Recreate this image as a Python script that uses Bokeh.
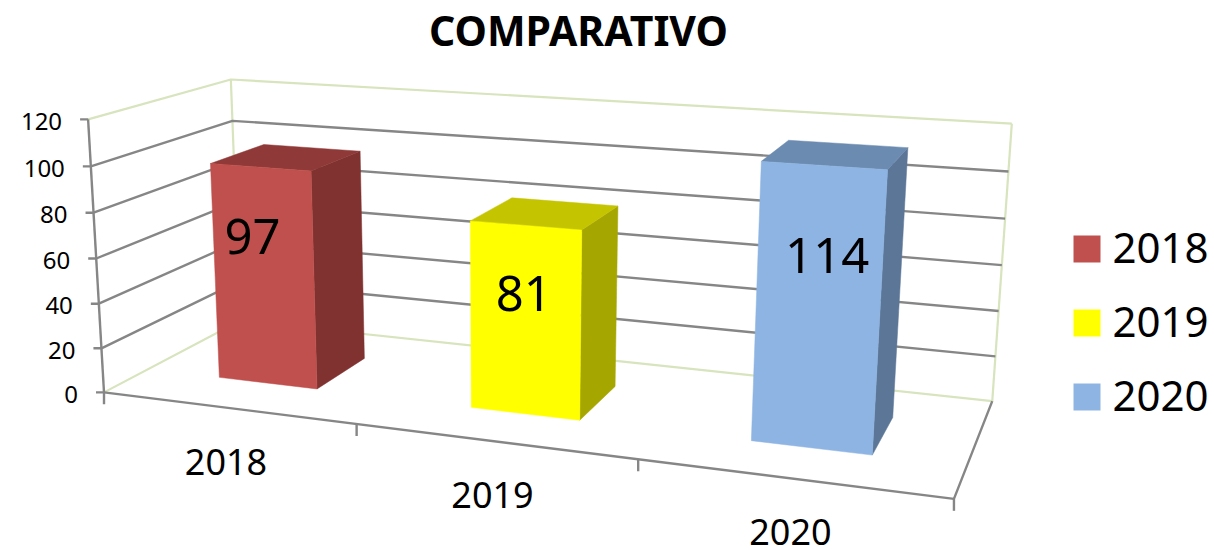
import numpy as np
from bokeh.core.properties import value
from bokeh.embed import file_html
from bokeh.models import Range1d
from bokeh.plotting import figure
from bokeh.resources import INLINE

# --- data ---
title_text = "COMPARATIVO"
categories = ["2018", "2019", "2020"]
values = [97, 81, 114]
y_ticks = [0, 20, 40, 60, 80, 100, 120]
y_max = 120

# --- style ---
front_colors = ["#C0504D", "#FFFF00", "#8DB4E2"]
side_colors = ["#7F3230", "#A6A600", "#5C7697"]
top_colors = ["#8F3A38", "#C4C400", "#6C8BB0"]
grid_color = "#868686"
frame_color = "#D7E4BD"
font = "Noto Sans"

# camera calibration: (u, w, height fraction) -> page pixel
calib_world = [(0, 0, 0), (1, 0, 0), (1, 1, 0), (0, 1, 0), (0, 0, 1), (0, 1, 1), (1, 1, 1)]
calib_page = [(105, 392), (953.5, 498), (992, 401), (238, 320), (86, 119), (232, 79), (1011, 123)]
rows = []
for (a, b, c), (x, y) in zip(calib_world, calib_page):
    rows.append([a, b, c, 1, 0, 0, 0, 0, -x * a, -x * b, -x * c, -x])
    rows.append([0, 0, 0, 0, a, b, c, 1, -y * a, -y * b, -y * c, -y])
cam = np.linalg.svd(np.array(rows, dtype=float))[2][-1].reshape(3, 4)


def project(u, w, v):
    q = cam @ np.array([u, w, v / y_max, 1.0])
    return q[0] / q[2], q[1] / q[2]


def path(*pts):
    xy = [project(*pt) for pt in pts]
    return [a for a, _ in xy], [b for _, b in xy]


p = figure(width=1214, height=550, output_backend="svg", toolbar_location=None,
           x_range=Range1d(0, 1214), y_range=Range1d(550, 0),
           min_border=0, outline_line_color=None, x_axis_type=None, y_axis_type=None)
p.grid.visible = False
p.background_fill_color = "white"
p.border_fill_color = "white"

# light frame of the walls
frame = [
    path((0, 0, y_max), (0, 1, y_max), (1, 1, y_max)),
    path((0, 1, 0), (0, 1, y_max)),
    path((1, 1, 0), (1, 1, y_max)),
    path((0, 0, 0), (0, 1, 0), (1, 1, 0)),
]
p.multi_line([f[0] for f in frame], [f[1] for f in frame], line_color=frame_color, line_width=2.2)

# gridlines on the walls
grid = [path((0, 0, t), (0, 1, t), (1, 1, t)) for t in y_ticks[1:-1]]
p.multi_line([g[0] for g in grid], [g[1] for g in grid], line_color=grid_color, line_width=2.4)

# axes
axes = [path((0, 0, 0), (0, 0, y_max)), path((0, 0, 0), (1, 0, 0), (1, 1, 0))]
for t in y_ticks:
    x0, y0 = project(0, 0, t)
    axes.append(([x0 - 8, x0], [y0, y0]))
n = len(categories)
for i in range(n + 1):
    x0, y0 = project(i / n, 0, 0)
    axes.append(([x0, x0], [y0, y0 + 12]))
p.multi_line([a[0] for a in axes], [a[1] for a in axes], line_color=grid_color, line_width=2.4)

# y tick labels
tx, ty = [], []
for t in y_ticks:
    x0, y0 = project(0, 0, t)
    tx.append(x0 - 26)
    ty.append(y0 + 2)
p.text(tx, ty, text=[str(t) for t in y_ticks], text_font=value(font), text_font_size="24px",
       text_align="right", text_baseline="middle", text_color="black")

# category labels
cx, cy = [], []
for i in range(n):
    x0, y0 = project((i + 0.5) / n, 0, 0)
    cx.append(x0 - 1)
    cy.append(y0 + 54)
p.text(cx, cy, text=categories, text_font=value(font), text_font_size="36px",
       text_align="center", text_baseline="middle", text_color="black")

# bars: default gap width and gap depth of 150 %
gap = 1.5
half_w = 0.5 / (1 + gap) / n
w0, w1 = 0.5 - 0.5 / (1 + gap), 0.5 + 0.5 / (1 + gap)
lab_dx = [-12, -2, 9]
lab_dy = [-39, -26, -51]
lx, ly = [], []
for i, val in enumerate(values):
    c = (i + 0.5) / n
    a, b = c - half_w, c + half_w
    side = path((b, w0, 0), (b, w1, 0), (b, w1, val), (b, w0, val))
    top = path((a, w0, val), (b, w0, val), (b, w1, val), (a, w1, val))
    front = path((a, w0, 0), (b, w0, 0), (b, w0, val), (a, w0, val))
    p.patch(side[0], side[1], fill_color=side_colors[i], line_color=side_colors[i], line_width=0.5)
    p.patch(top[0], top[1], fill_color=top_colors[i], line_color=top_colors[i], line_width=0.5)
    p.patch(front[0], front[1], fill_color=front_colors[i], line_color=front_colors[i], line_width=0.5)
    lx.append(sum(front[0]) / 4 + lab_dx[i])
    ly.append(sum(front[1]) / 4 + lab_dy[i])
p.text(lx, ly, text=[str(v) for v in values], text_font=value(font), text_font_size="49px",
       text_align="center", text_baseline="middle", text_color="black")

# title
p.text([578], [29], text=[title_text], text_font=value(font), text_font_size="41px",
       text_font_style="bold", text_align="center", text_baseline="middle", text_color="black")

# legend
leg_left, leg_top, leg_size, leg_step = 1073, 235, 27, 74
for i, name in enumerate(categories):
    top_y = leg_top + i * leg_step
    p.quad(left=[leg_left], right=[leg_left + leg_size], top=[top_y], bottom=[top_y + leg_size],
           fill_color=front_colors[i], line_color=None)
    p.text([leg_left + 39], [top_y + leg_size / 2 - 1.5], text=[name], text_font=value(font),
           text_font_size="42px", text_align="left", text_baseline="middle", text_color="black")

open("out.html", "w").write(file_html(p, INLINE))
